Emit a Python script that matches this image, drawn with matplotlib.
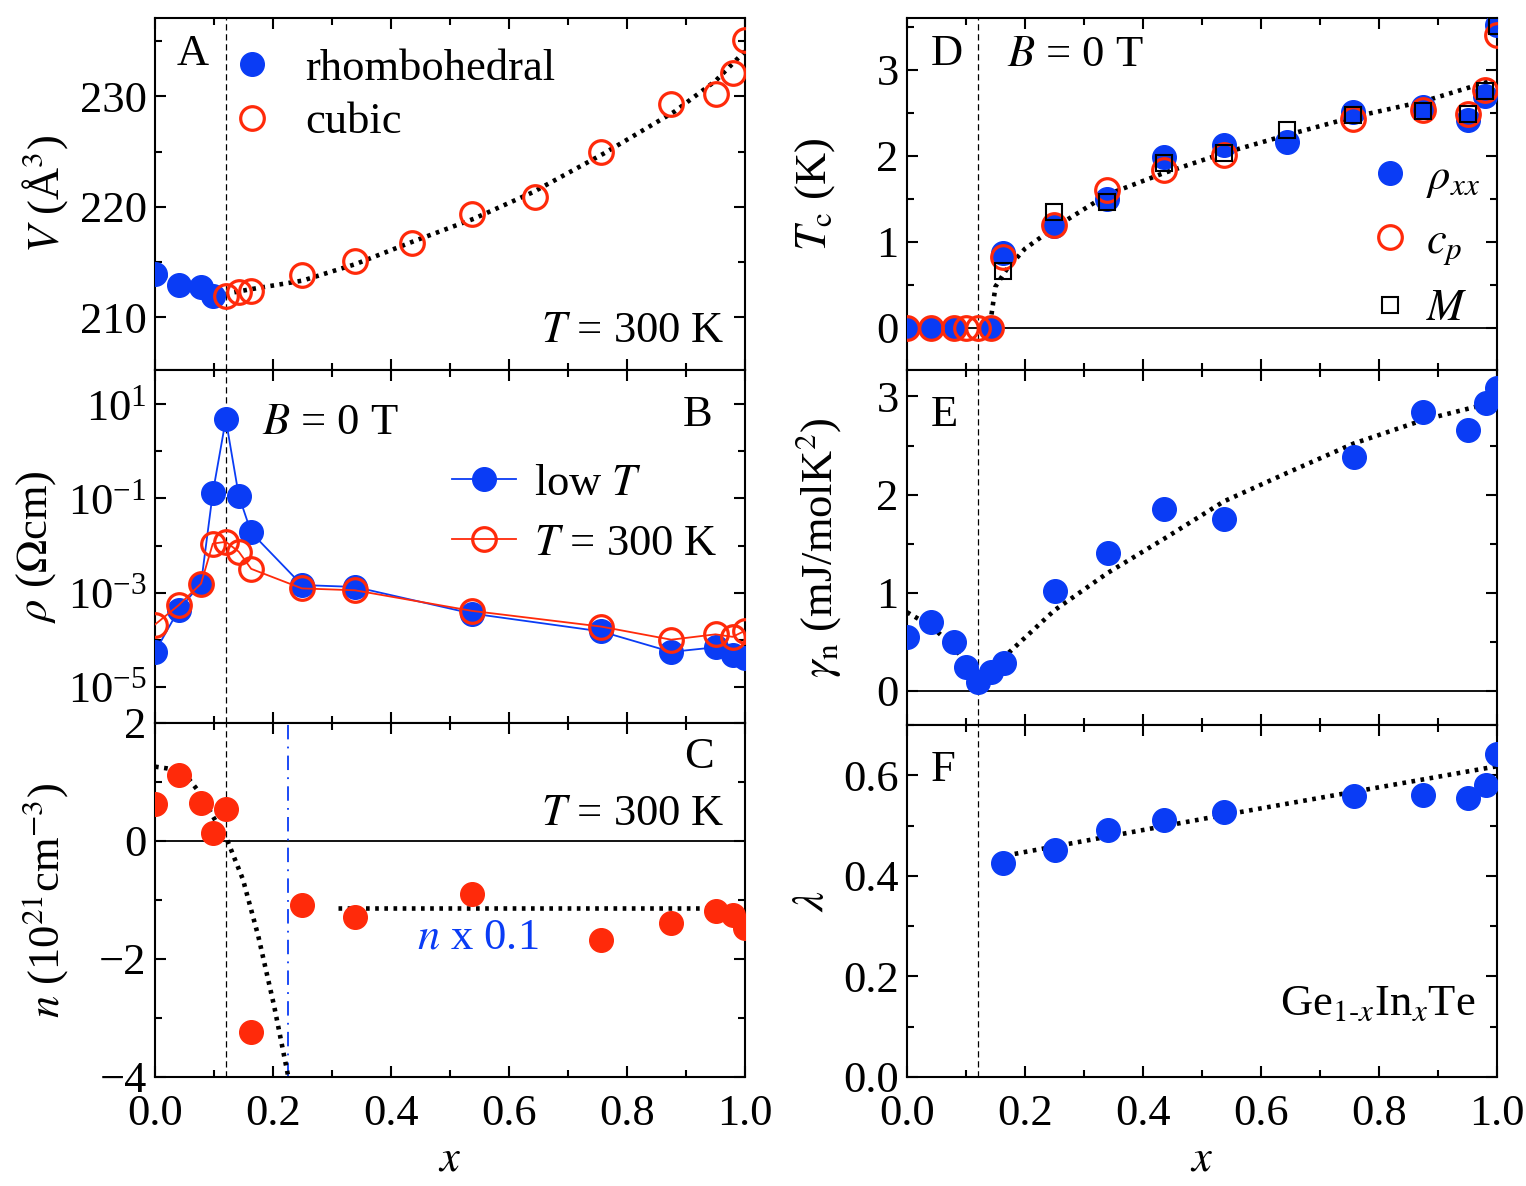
import matplotlib
matplotlib.use('Agg')
import matplotlib.pyplot as plt
from matplotlib.ticker import MultipleLocator, FixedLocator, NullFormatter, LogFormatterMathtext, FormatStrFormatter

plt.rcParams['font.family'] = ['Liberation Serif', 'DejaVu Serif']
plt.rcParams['mathtext.fontset'] = 'stix'
plt.rcParams['font.size'] = 32
plt.rcParams['axes.linewidth'] = 1.5

BLUE = '#0a3cf5'
RED = '#ff2a0a'

# ---------------- data ----------------
# Panel A: unit-cell volume
xA_rh = [0.0, 0.04, 0.078, 0.098]
VA_rh = [213.9, 212.9, 212.7, 211.9]
xA_cu = [0.12, 0.142, 0.163, 0.249, 0.339, 0.436, 0.537, 0.644, 0.756, 0.875, 0.95, 0.979, 1.0]
VA_cu = [211.95, 212.3, 212.4, 213.8, 215.1, 216.7, 219.3, 220.9, 225.0, 229.3, 230.2, 232.1, 235.1]
xA_fit = [0.0, 0.05, 0.1, 0.12, 0.16, 0.25, 0.34, 0.44, 0.54, 0.64, 0.76, 0.88, 0.95, 1.0]
VA_fit = [213.9, 213.2, 212.2, 212.1, 212.5, 213.3, 214.8, 216.9, 218.9, 221.3, 224.8, 228.6, 231.4, 234.1]

# Panel B: resistivity
xB = [0.0, 0.04, 0.078, 0.098, 0.12, 0.142, 0.163, 0.249, 0.339, 0.537, 0.756, 0.875, 0.95, 0.979, 1.0]
rho_lowT = [5.5e-5, 4.3e-4, 1.55e-3, 0.132, 4.8, 0.115, 0.019, 1.45e-3, 1.32e-3, 3.6e-4,
            1.5e-4, 5.5e-5, 6.9e-5, 4.7e-5, 4.0e-5]
rho_300K = [2.1e-4, 5.4e-4, 1.55e-3, 0.011, 0.012, 7.4e-3, 3.2e-3, 1.23e-3, 1.12e-3, 4.1e-4,
            1.9e-4, 1.0e-4, 1.3e-4, 1.15e-4, 1.55e-4]

# Panel C: carrier density
xC = [0.0, 0.04, 0.078, 0.098, 0.12, 0.162, 0.249, 0.339, 0.537, 0.756, 0.875, 0.95, 0.979, 1.0]
nC = [0.62, 1.12, 0.65, 0.14, 0.55, -3.24, -1.09, -1.29, -0.89, -1.67, -1.39, -1.18, -1.26, -1.47]
xC_fit = [0.0, 0.021, 0.04, 0.055, 0.078, 0.098, 0.123, 0.149, 0.175, 0.202, 0.226]
nC_fit = [1.26, 1.23, 1.19, 1.08, 0.79, 0.42, 0.0, -0.65, -1.61, -2.8, -4.0]
xC_fit2 = [0.31, 0.95]
nC_fit2 = [-1.13, -1.13]

# Panel D: Tc
xD_rho = [0.0, 0.04, 0.08, 0.143, 0.163, 0.249, 0.339, 0.436, 0.537, 0.644, 0.756, 0.875, 0.95, 0.979, 1.0]
Tc_rho = [0, 0, 0, 0, 0.87, 1.18, 1.50, 1.99, 2.12, 2.16, 2.51, 2.57, 2.41, 2.69, 3.52]
xD_cp = [0.0, 0.04, 0.08, 0.1, 0.12, 0.143, 0.163, 0.249, 0.339, 0.436, 0.537, 0.756, 0.875, 0.95, 0.979, 1.0]
Tc_cp = [0, 0, 0, 0, 0, 0, 0.82, 1.20, 1.60, 1.83, 2.01, 2.43, 2.53, 2.49, 2.76, 3.40]
xD_M = [0.163, 0.249, 0.339, 0.436, 0.537, 0.644, 0.756, 0.875, 0.95, 0.979, 1.0]
Tc_M = [0.66, 1.35, 1.46, 1.92, 2.03, 2.30, 2.47, 2.52, 2.49, 2.75, 3.51]
xD_fit = [0.141, 0.15, 0.169, 0.2, 0.249, 0.34, 0.436, 0.537, 0.644, 0.757, 0.875, 0.985]
Tc_fit = [0.05, 0.48, 0.68, 0.92, 1.16, 1.55, 1.80, 2.03, 2.24, 2.45, 2.63, 2.86]

# Panel E: Sommerfeld coefficient
xE = [0.0, 0.04, 0.079, 0.1, 0.121, 0.143, 0.164, 0.25, 0.34, 0.436, 0.537, 0.757, 0.875, 0.951, 0.982, 1.0]
gE = [0.55, 0.70, 0.50, 0.245, 0.09, 0.19, 0.28, 1.02, 1.40, 1.85, 1.75, 2.38, 2.84, 2.66, 2.93, 3.09]
xE_fit = [0.0, 0.04, 0.08, 0.12, 0.164, 0.25, 0.34, 0.436, 0.537, 0.644, 0.757, 0.875, 1.0]
gE_fit = [0.80, 0.66, 0.45, 0.07, 0.34, 0.82, 1.20, 1.55, 1.93, 2.22, 2.52, 2.76, 2.95]

# Panel F: coupling constant
xF = [0.163, 0.25, 0.34, 0.436, 0.537, 0.757, 0.875, 0.951, 0.982, 1.0]
lamF = [0.425, 0.451, 0.492, 0.511, 0.527, 0.558, 0.560, 0.554, 0.580, 0.643]
xF_fit = [0.152, 0.537, 1.0]
lamF_fit = [0.437, 0.521, 0.618]

x_crit = 0.12
x_blue_line = 0.225

# ---------------- figure ----------------
fig = plt.figure(figsize=(15.26, 11.86), dpi=100)
W, H = 1526, 1186

def add_ax(l, r, t, b):
    return fig.add_axes([l / W, 1 - b / H, (r - l) / W, (b - t) / H])

axA = add_ax(155, 745, 18, 370)
axB = add_ax(155, 745, 370, 723)
axC = add_ax(155, 745, 723, 1077)
axD = add_ax(907, 1497, 18, 370)
axE = add_ax(907, 1497, 370, 725)
axF = add_ax(907, 1497, 725, 1077)

ms = 17
mew_open = 2.3
dot_kw = dict(color='black', lw=3.3, ls=(0, (0.8, 1.2)), zorder=2)

for ax in (axA, axB, axC, axD, axE, axF):
    ax.set_xlim(0, 1.0)
    ax.xaxis.set_major_locator(MultipleLocator(0.2))
    ax.xaxis.set_minor_locator(MultipleLocator(0.1))
    ax.tick_params(which='both', direction='in', top=True, right=True, width=1.5)
    ax.tick_params(which='major', length=8, pad=6)
    ax.tick_params(which='minor', length=5)
    ax.axvline(x_crit, color='black', lw=0.9, ls=(0, (5, 3)), zorder=1)

for ax in (axA, axB, axD, axE):
    ax.tick_params(labelbottom=False)
for ax in (axC, axF):
    ax.tick_params(axis='x', pad=12)
    ax.xaxis.set_major_formatter(FormatStrFormatter('%.1f'))
    ax.set_xlabel(r'$x$', labelpad=4)

# Panel A
axA.plot(xA_fit, VA_fit, **dot_kw)
axA.plot(xA_rh, VA_rh, 'o', color=BLUE, ms=ms, mec=BLUE, label='rhombohedral', zorder=3)
axA.plot(xA_cu, VA_cu, 'o', mfc='none', mec=RED, mew=mew_open, ms=ms, label='cubic', zorder=4)
axA.set_ylim(205.2, 237.1)
axA.yaxis.set_major_locator(MultipleLocator(10))
axA.yaxis.set_minor_locator(MultipleLocator(5))
axA.set_ylabel(r'$V$ (Å$^3$)')
axA.text(0.037, 0.955, 'A', transform=axA.transAxes, ha='left', va='top')
axA.text(0.966, 0.08, r'$T$ = 300 K', transform=axA.transAxes, ha='right', va='baseline')
axA.legend(loc='center left', bbox_to_anchor=(0.13, 0.78), frameon=False, handlelength=0.9,
           handletextpad=0.75, labelspacing=0.3, borderpad=0, borderaxespad=0, numpoints=1)

# Panel B
axB.set_yscale('log')
axB.plot(xB, rho_lowT, '-o', color=BLUE, lw=1.3, ms=ms, label=r'low $T$', zorder=3)
axB.plot(xB, rho_300K, '-o', color=RED, lw=1.3, mfc='none', mec=RED, mew=mew_open, ms=ms,
         label=r'$T$ = 300 K', zorder=4)
axB.set_ylim(10 ** -5.77, 10 ** 1.73)
axB.yaxis.set_major_locator(FixedLocator([1e1, 1e-1, 1e-3, 1e-5]))
axB.yaxis.set_major_formatter(LogFormatterMathtext())
axB.yaxis.set_minor_locator(FixedLocator([1e0, 1e-2, 1e-4]))
axB.yaxis.set_minor_formatter(NullFormatter())
axB.set_ylabel(r'$\rho$ ($\Omega$cm)')
axB.text(0.944, 0.93, 'B', transform=axB.transAxes, ha='right', va='top')
axB.text(0.182, 0.85, r'$B$ = 0 T', transform=axB.transAxes, ha='left', va='center')
axB.legend(loc='center left', bbox_to_anchor=(0.503, 0.593), frameon=False, handlelength=1.45,
           handletextpad=0.4, labelspacing=0.45, borderpad=0, borderaxespad=0, numpoints=1)

# Panel C
axC.axhline(0, color='black', lw=1.3, zorder=1)
axC.axvline(x_blue_line, color=BLUE, lw=1.3, ls=(0, (8, 4, 1, 4)), zorder=1)
axC.plot(xC_fit, nC_fit, **dot_kw)
axC.plot(xC_fit2, nC_fit2, **dot_kw)
axC.plot(xC, nC, 'o', color=RED, ms=ms, zorder=3)
axC.set_ylim(-4, 2)
axC.yaxis.set_major_locator(MultipleLocator(2))
axC.yaxis.set_minor_locator(MultipleLocator(1))
axC.set_ylabel(r'$n$ (10$^{21}$cm$^{-3}$)')
axC.text(0.948, 0.96, 'C', transform=axC.transAxes, ha='right', va='top')
axC.text(0.966, 0.712, r'$T$ = 300 K', transform=axC.transAxes, ha='right', va='baseline')
axC.text(0.547, -1.64, r'$n$ x 0.1', color=BLUE, ha='center', va='center')

# Panel D
axD.axhline(0, color='black', lw=1.3, zorder=1)
axD.plot(xD_fit, Tc_fit, **dot_kw)
axD.plot(xD_rho, Tc_rho, 'o', color=BLUE, ms=ms, label=r'$\rho_{xx}$', zorder=3)
axD.plot(xD_cp, Tc_cp, 'o', mfc='none', mec=RED, mew=mew_open, ms=ms, label=r'$c_p$', zorder=4)
axD.plot(xD_M, Tc_M, 's', mfc='none', mec='black', mew=1.5, ms=12, label=r'$M$', zorder=5)
axD.set_ylim(-0.49, 3.6)
axD.yaxis.set_major_locator(MultipleLocator(1))
axD.yaxis.set_minor_locator(MultipleLocator(0.5))
axD.set_ylabel(r'$T_{\rm c}$ (K)')
axD.text(0.04, 0.955, 'D', transform=axD.transAxes, ha='left', va='top')
axD.text(0.17, 0.895, r'$B$ = 0 T', transform=axD.transAxes, ha='left', va='center')
axD.legend(loc='center left', bbox_to_anchor=(0.785, 0.36), frameon=False, handlelength=0.9,
           handletextpad=0.35, labelspacing=0.5, borderpad=0, borderaxespad=0, numpoints=1)

# Panel E
axE.axhline(0, color='black', lw=1.3, zorder=1)
axE.plot(xE_fit, gE_fit, **dot_kw)
axE.plot(xE, gE, 'o', color=BLUE, ms=ms, zorder=3)
axE.set_ylim(-0.35, 3.27)
axE.yaxis.set_major_locator(MultipleLocator(1))
axE.yaxis.set_minor_locator(MultipleLocator(0.5))
axE.set_ylabel(r'$\gamma_{\rm n}$ (mJ/molK$^2$)')
axE.text(0.04, 0.93, 'E', transform=axE.transAxes, ha='left', va='top')

# Panel F
axF.plot(xF_fit, lamF_fit, **dot_kw)
axF.plot(xF, lamF, 'o', color=BLUE, ms=ms, zorder=3)
axF.set_ylim(0, 0.7)
axF.yaxis.set_major_locator(MultipleLocator(0.2))
axF.yaxis.set_minor_locator(MultipleLocator(0.1))
axF.yaxis.set_major_formatter(FormatStrFormatter('%.1f'))
axF.set_ylabel(r'$\lambda$')
axF.text(0.04, 0.93, 'F', transform=axF.transAxes, ha='left', va='top')
axF.text(0.964, 0.176, r'Ge$_{\text{1-}x}$In$_{x}$Te', transform=axF.transAxes, ha='right', va='baseline')

axA.yaxis.set_label_coords(-0.144, 0.5)
axB.yaxis.set_label_coords(-0.164, 0.5)
axC.yaxis.set_label_coords(-0.144, 0.5)
axD.yaxis.set_label_coords(-0.119, 0.5)
axE.yaxis.set_label_coords(-0.108, 0.5)
axF.yaxis.set_label_coords(-0.125, 0.5)

fig.savefig('out.png', dpi=100)
